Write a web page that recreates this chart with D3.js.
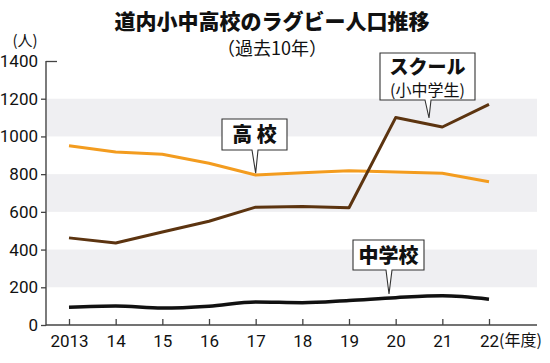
<!DOCTYPE html>
<html><head><meta charset="utf-8">
<script src="https://cdn.jsdelivr.net/npm/d3@7/dist/d3.min.js"></script>
<style>
body{margin:0;background:#fff}
svg{display:block}
text{font-family:"Noto Sans CJK JP","Noto Sans",sans-serif}
.tick{font-family:"Liberation Sans Narrow","Roboto","Noto Sans",sans-serif}
</style></head>
<body>
<svg id="c" width="550" height="363"></svg>
<script>
const years = [2013,2014,2015,2016,2017,2018,2019,2020,2021,2022];
const xLabels = ["2013","14","15","16","17","18","19","20","21","22"];
const highSchool = [950,918,905,858,795,808,818,812,805,760];
const school = [462,435,493,550,625,628,622,1100,1050,1170];
const middleSchool = [94,101,90,100,122,118,130,145,155,137];
const yTicks = [0,200,400,600,800,1000,1200,1400];
const bands = [[200,400],[600,800],[1000,1200]];

const svg = d3.select("#c");
const x = d3.scaleLinear().domain([2013,2022]).range([69,489]);
const y = d3.scaleLinear().domain([0,1400]).range([325,61]);
const axisLeft = 46, axisRight = 537;

// bands
svg.append("g").selectAll("rect").data(bands).join("rect")
  .attr("x",axisLeft+1).attr("width",axisRight-axisLeft-1)
  .attr("y",d=>y(d[1])).attr("height",d=>y(d[0])-y(d[1]))
  .attr("fill","#efeff2");

// y axis
const ya = svg.append("g").attr("transform",`translate(${axisLeft},0)`)
  .call(d3.axisLeft(y).tickValues(yTicks).tickSize(5).tickPadding(3).tickFormat(d3.format("d")));
ya.select(".domain").remove();
ya.selectAll("line").attr("stroke","#444").attr("stroke-width",1.3);
ya.selectAll("text").attr("class","tick").attr("font-size",17).attr("fill","#111");
ya.selectAll(".tick").filter(d=>d===1400).select("line").attr("x2",11).attr("x1",0);
svg.append("line").attr("x1",axisLeft).attr("x2",axisLeft).attr("y1",y(1400)).attr("y2",y(0)+0.5)
  .attr("stroke","#444").attr("stroke-width",1.4);

// x axis
const xa = svg.append("g").attr("transform",`translate(0,${y(0)})`)
  .call(d3.axisBottom(x).tickValues(years).tickSize(-6).tickPadding(10).tickFormat((d,i)=>xLabels[i]));
xa.select(".domain").remove();
xa.selectAll("line").attr("stroke","#444").attr("stroke-width",1.3);
xa.selectAll("text").attr("class","tick").attr("font-size",17).attr("fill","#111");
svg.append("line").attr("x1",axisLeft).attr("x2",axisRight).attr("y1",y(0)).attr("y2",y(0))
  .attr("stroke","#444").attr("stroke-width",1.4);
svg.append("text").attr("x",x(2022)+10).attr("y",346).attr("font-size",16).attr("fill","#111").text("(年度)");

// lines
const lineLin = d3.line().x((d,i)=>x(years[i])).y(d=>y(d));
const lineSmooth = d3.line().x((d,i)=>x(years[i])).y(d=>y(d)).curve(d3.curveMonotoneX);
svg.append("path").datum(highSchool).attr("d",lineLin).attr("fill","none")
  .attr("stroke","#f39c1f").attr("stroke-width",3).attr("stroke-linejoin","round");
svg.append("path").datum(school).attr("d",lineLin).attr("fill","none")
  .attr("stroke","#5c3410").attr("stroke-width",3).attr("stroke-linejoin","round");
svg.append("path").datum(middleSchool).attr("d",lineSmooth).attr("fill","none")
  .attr("stroke","#111").attr("stroke-width",3.5).attr("stroke-linejoin","round");

// titles
svg.append("text").attr("x",272).attr("y",29).attr("text-anchor","middle")
  .attr("font-size",21).attr("font-weight",900).attr("fill","#111").text("道内小中高校のラグビー人口推移");
svg.append("text").attr("x",272).attr("y",55).attr("text-anchor","middle")
  .attr("font-size",18).attr("fill","#111").text("（過去10年）");
svg.append("text").attr("x",25).attr("y",46).attr("text-anchor","middle")
  .attr("font-size",15).attr("fill","#111").text("(人)");

// callouts
function callout(bx,by,bw,bh,px,tipX,tipY,lines){
  const g = svg.append("g");
  const p = `M${bx},${by}H${bx+bw}V${by+bh}H${px+3}L${tipX},${tipY}L${px-3},${by+bh}H${bx}Z`;
  g.append("path").attr("d",p).attr("fill","#fff").attr("stroke","#333").attr("stroke-width",1.1);
  lines.forEach(l=>{
    g.append("text").attr("x",bx+bw/2).attr("y",l.y).attr("text-anchor","middle")
      .attr("font-size",l.size).attr("font-weight",l.w).attr("fill","#111")
      .text(l.t);
  });
}
callout(222,119,65,31,255,x(2017),y(highSchool[4])-2,[{t:"高 校",y:142,size:20,w:900}]);
callout(380,53,95,47,428,429,118,[{t:"スクール",y:74,size:19,w:900},{t:"(小中学生)",y:96,size:16,w:400}]);
callout(353,240,71,30,389,389,294,[{t:"中学校",y:263,size:20,w:900}]);
</script>
</body></html>
